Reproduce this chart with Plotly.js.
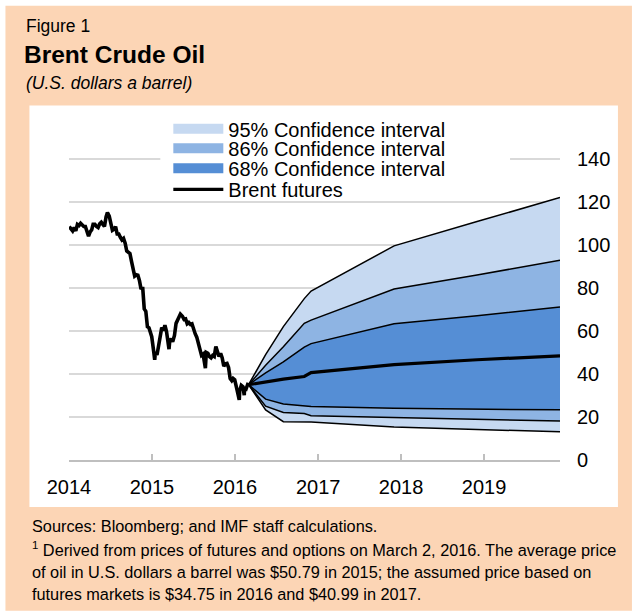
<!DOCTYPE html>
<html><head><meta charset="utf-8">
<script src="https://cdn.plot.ly/plotly-3.0.1.min.js"></script>
<style>html,body{margin:0;padding:0;background:#fff;} #chart{width:632px;height:611px;}</style>
</head><body><div id="chart"></div>
<script>
// ---- data ----
const histDates = [
'2014-01-02','2014-01-10','2014-01-17','2014-01-24','2014-01-31',
'2014-02-07','2014-02-14','2014-02-21','2014-02-28',
'2014-03-07','2014-03-14','2014-03-21','2014-03-28',
'2014-04-04','2014-04-11','2014-04-17','2014-04-25',
'2014-05-02','2014-05-09','2014-05-16','2014-05-23','2014-05-30',
'2014-06-06','2014-06-13','2014-06-19','2014-06-27',
'2014-07-04','2014-07-11','2014-07-18','2014-07-25',
'2014-08-01','2014-08-08','2014-08-15','2014-08-22','2014-08-29',
'2014-09-05','2014-09-12','2014-09-19','2014-09-26',
'2014-10-03','2014-10-10','2014-10-17','2014-10-24','2014-10-31',
'2014-11-07','2014-11-14','2014-11-21','2014-11-28',
'2014-12-05','2014-12-12','2014-12-19','2014-12-26','2014-12-31',
'2015-01-09','2015-01-13','2015-01-16','2015-01-23','2015-01-30',
'2015-02-06','2015-02-13','2015-02-20','2015-02-27',
'2015-03-06','2015-03-13','2015-03-17','2015-03-20','2015-03-27',
'2015-04-02','2015-04-10','2015-04-17','2015-04-24',
'2015-05-01','2015-05-06','2015-05-15','2015-05-22','2015-05-29',
'2015-06-05','2015-06-12','2015-06-19','2015-06-26',
'2015-07-03','2015-07-10','2015-07-17','2015-07-24','2015-07-31',
'2015-08-07','2015-08-14','2015-08-21','2015-08-24','2015-08-28',
'2015-09-04','2015-09-11','2015-09-18','2015-09-25',
'2015-10-02','2015-10-09','2015-10-16','2015-10-23','2015-10-30',
'2015-11-06','2015-11-13','2015-11-20','2015-11-27',
'2015-12-04','2015-12-11','2015-12-18','2015-12-24','2015-12-31',
'2016-01-08','2016-01-15','2016-01-20','2016-01-22','2016-01-29',
'2016-02-05','2016-02-11','2016-02-12','2016-02-19','2016-02-26',
'2016-03-01'];
const histPrice = [
108.5,107.5,106.5,108.0,106.5,
109.5,109.0,110.0,109.0,
108.5,108.5,106.5,104.0,
106.0,107.0,109.5,109.5,
108.5,108.0,109.8,110.5,109.5,
108.5,113.0,115.0,113.3,
110.6,106.7,107.2,108.4,
105.0,105.0,103.5,102.3,103.0,
100.8,97.1,96.5,96.0,
92.3,88.0,85.5,86.1,85.9,
83.4,79.4,80.4,70.2,
69.1,61.9,61.4,59.5,57.3,
50.1,46.6,50.2,48.8,53.0,
57.8,61.5,60.2,62.6,
59.7,54.7,51.5,55.3,56.4,
54.9,57.9,63.5,65.3,
66.5,67.8,66.8,65.4,65.6,
63.3,63.9,63.0,63.3,
60.3,58.7,57.1,54.6,52.2,
48.6,49.2,45.5,42.7,50.0,
49.6,48.1,47.5,48.6,
48.1,52.7,50.5,48.1,49.6,
47.4,43.6,44.7,44.9,
43.0,37.9,36.9,37.9,37.3,
33.6,28.9,27.9,32.2,34.7,
34.1,30.1,33.4,33.0,35.1,
35.0];

const fanDates = ['2016-03-01','2016-05-15','2016-08-01','2016-11-01','2016-12-01','2017-12-01','2018-12-01','2019-12-01'];
const futures  = [35.0, 36.3, 37.6, 38.8, 40.6, 44.3, 46.6, 48.4];
const ci68High = [35.0, 40.5, 45.6, 52.5, 54.1, 63.3, 67.0, 71.1];
const ci68Low  = [35.0, 28.3, 26.0, 25.1, 24.9, 24.0, 23.5, 23.3];
const ci86High = [35.0, 44.0, 52.6, 63.5, 65.0, 79.5, 86.0, 92.8];
const ci86Low  = [35.0, 25.0, 22.1, 21.6, 20.6, 19.7, 18.9, 18.1];
const ci95High = [35.0, 49.0, 62.0, 75.0, 78.5, 99.5, 110.8, 122.0];
const ci95Low  = [35.0, 23.3, 17.8, 17.8, 17.7, 15.3, 14.2, 13.1];

const seriesNames = ['95% Confidence interval','86% Confidence interval','68% Confidence interval','Brent futures'];
const yTickVals = [0,20,40,60,80,100,120,140];

// ---- styling ----
const C95 = '#C6D9F1', C86 = '#8EB4E3', C68 = '#558ED5';
const PEACH = '#FCD5B5';
const NARROW = '"Liberation Sans Narrow", "Arial Narrow", "Liberation Sans", Arial, sans-serif';
const SANS = '"Liberation Sans", Arial, sans-serif';

// pixel -> paper helpers (plot area: x 68.6..560, y 147.5..460)
const L = 68.6, R = 560, T = 147.5, B = 460;
const px = v => (v - L) / (R - L);
const py = v => (B - v) / (B - T);

function band(lo, hi, color) {
  return [
    {x: fanDates, y: lo, mode: 'lines', line: {width: 0}, showlegend: false, hoverinfo: 'skip'},
    {x: fanDates, y: hi, mode: 'lines', line: {width: 0}, fill: 'tonexty', fillcolor: color, showlegend: false, hoverinfo: 'skip'}
  ];
}
function outline(arr) {
  return {x: fanDates, y: arr, mode: 'lines', line: {color: '#000', width: 1.5}, showlegend: false, hoverinfo: 'skip'};
}

const traces = [
  ...band(ci95Low, ci95High, C95),
  ...band(ci86Low, ci86High, C86),
  ...band(ci68Low, ci68High, C68),
  outline(ci95Low), outline(ci95High), outline(ci86Low), outline(ci86High), outline(ci68Low), outline(ci68High),
  {x: histDates, y: histPrice, mode: 'lines', line: {color: '#000', width: 3.6}, showlegend: false},
  {x: fanDates, y: futures, mode: 'lines', line: {color: '#000', width: 3.2}, name: seriesNames[3], legend: 'legend4'},
  {x: [null], y: [null], mode: 'lines', line: {color: C95, width: 14}, name: seriesNames[0], legend: 'legend'},
  {x: [null], y: [null], mode: 'lines', line: {color: C86, width: 14}, name: seriesNames[1], legend: 'legend2'},
  {x: [null], y: [null], mode: 'lines', line: {color: C68, width: 14}, name: seriesNames[2], legend: 'legend3'}
];

function leg(yPix) {
  return {x: px(168), y: py(yPix), xanchor: 'left', yanchor: 'middle', bgcolor: 'rgba(0,0,0,0)',
          borderwidth: 0, itemwidth: 50, font: {family: SANS, size: 20, color: '#000'}};
}

const layout = {
  width: 632, height: 611,
  margin: {l: L, r: 632 - R, t: T, b: 611 - B, autoexpand: false},
  paper_bgcolor: '#ffffff', plot_bgcolor: '#ffffff',
  showlegend: true,
  title: {text: 'Brent Crude Oil', font: {family: NARROW, size: 24.5, color: '#000', weight: 'bold'},
          xref: 'container', yref: 'container', x: 24/632, xanchor: 'left', y: 1 - 54.5/611, yanchor: 'middle'},
  xaxis: {type: 'date', range: ['2014-01-01', '2019-12-01'], tick0: '2014-01-01', dtick: 'M12', tickformat: '%Y',
          ticks: 'inside', ticklen: 6, tickwidth: 1.5, tickcolor: '#BFBFBF',
          showline: true, linecolor: '#BFBFBF', linewidth: 1.5, showgrid: false, zeroline: false,
          tickfont: {family: SANS, size: 20, color: '#000'}, ticklabelstandoff: 8, fixedrange: true},
  yaxis: {range: [0, 145], side: 'right', tickmode: 'array', tickvals: yTickVals, ticks: '',
          showgrid: true, gridcolor: '#D9D9D9', gridwidth: 1.5, zeroline: false, showline: false,
          tickfont: {family: SANS, size: 20, color: '#000'}, ticklabelstandoff: 16, fixedrange: true},
  legend: leg(128.3), legend2: leg(147.8), legend3: leg(167.8), legend4: leg(189),
  shapes: [
    {type: 'rect', xref: 'paper', yref: 'paper', x0: px(5), x1: px(632), y0: py(611), y1: py(5),
     fillcolor: PEACH, line: {width: 0}, layer: 'below'},
    {type: 'rect', xref: 'paper', yref: 'paper', x0: px(29), x1: px(618), y0: py(507), y1: py(105),
     fillcolor: '#ffffff', line: {width: 0}, layer: 'below'},
    {type: 'rect', xref: 'x domain', yref: 'y', x0: px(160), x1: px(510), y0: 134, y1: 145,
     fillcolor: '#ffffff', line: {width: 0}, layer: 'above'}
  ],
  annotations: [
    {text: 'Figure 1', xref: 'paper', yref: 'paper', x: px(24), y: py(25), xanchor: 'left', yanchor: 'middle',
     showarrow: false, font: {family: NARROW, size: 17.5, color: '#000'}},
    {text: '<i>(U.S. dollars a barrel)</i>', xref: 'paper', yref: 'paper', x: px(24), y: py(82.5), xanchor: 'left', yanchor: 'middle',
     showarrow: false, font: {family: NARROW, size: 17.5, color: '#000'}},
    {text: 'Sources: Bloomberg; and IMF staff calculations.', xref: 'paper', yref: 'paper', x: px(30), y: py(526.5),
     xanchor: 'left', yanchor: 'middle', showarrow: false, font: {family: NARROW, size: 16.3, color: '#000'}},
    {text: '<sup>1</sup> Derived from prices of futures and options on March 2, 2016. The average price', xref: 'paper', yref: 'paper',
     x: px(30), y: py(549.5), xanchor: 'left', yanchor: 'middle', showarrow: false, font: {family: NARROW, size: 16.3, color: '#000'}},
    {text: 'of oil in U.S. dollars a barrel was $50.79 in 2015; the assumed price based on', xref: 'paper', yref: 'paper',
     x: px(30), y: py(571.8), xanchor: 'left', yanchor: 'middle', showarrow: false, font: {family: NARROW, size: 16.3, color: '#000'}},
    {text: 'futures markets is $34.75 in 2016 and $40.99 in 2017.', xref: 'paper', yref: 'paper',
     x: px(30), y: py(594), xanchor: 'left', yanchor: 'middle', showarrow: false, font: {family: NARROW, size: 16.3, color: '#000'}}
  ]
};

Plotly.newPlot('chart', traces, layout, {staticPlot: true, displayModeBar: false});
</script>
</body></html>
